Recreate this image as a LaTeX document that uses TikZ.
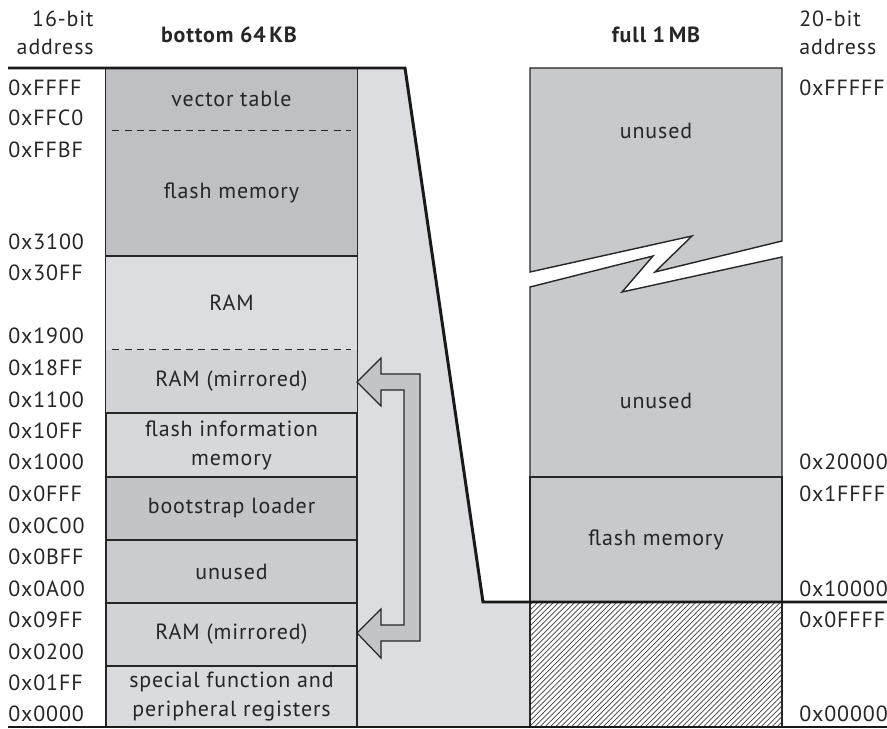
\documentclass[tikz,border=0pt]{standalone}
\usepackage{fontspec}
\setmainfont{PT Sans}[LetterSpace=4]
\usetikzlibrary{patterns}
\definecolor{txtgray}{HTML}{262626}
\definecolor{gDark}{HTML}{BFC0C3}
\definecolor{gLight}{HTML}{DCDDE0}
\definecolor{gMir}{HTML}{D2D3D6}
\definecolor{gInfo}{HTML}{D7D8DA}
\definecolor{gBoot}{HTML}{C3C4C7}
\definecolor{gUnused}{HTML}{CBCCCF}
\definecolor{gSpec}{HTML}{DADBDE}
\definecolor{gRight}{HTML}{C8C9CB}
\definecolor{gArrow}{HTML}{C3C4C7}
\tikzset{
  region/.style={draw=black!85, line width=0.8pt},
  lbl/.style={font=\fontsize{12.5}{15}\selectfont, text=txtgray, inner sep=0pt, align=center},
  head/.style={lbl, font=\fontsize{12.5}{15}\selectfont\bfseries},
  addr/.style={lbl, anchor=west},
  blk/.style={lbl, region, minimum width=5.02cm},
  sep/.style={draw=black!85, line width=0.7pt, dash pattern=on 4pt off 3pt},
  edge/.style={draw=black!90, line width=1.7pt},
}
\begin{document}
\begin{tikzpicture}[x=0.02cm, y=-0.02cm]
  \useasboundingbox (0,0) rectangle (887,729);
  % grey band behind the 64 KB window
  \fill[gLight] (357,68) -- (405,68) -- (483,602) -- (530,602) -- (530,727) -- (357,727) -- cycle;

  % bottom 64 KB
  \node[blk, draw=none, fill=gDark, minimum height=1.24cm] (vec) at (231.5,99) {vector table};
  \node[blk, draw=none, fill=gDark, minimum height=2.52cm] (fla) at (231.5,193) {flash memory};
  \node[blk, draw=none, fill=gLight, minimum height=1.88cm] (ram) at (231.5,303) {RAM};
  \node[blk, draw=none, fill=gMir, minimum height=1.26cm] (mirA) at (231.5,381.5) {RAM (mirrored)};
  \node[blk, fill=gInfo, minimum height=1.28cm] (info) at (231.5,445) {flash information\\[1.5pt]memory};
  \node[blk, fill=gBoot, minimum height=1.26cm] (boot) at (231.5,508.5) {bootstrap loader};
  \node[blk, fill=gUnused, minimum height=1.26cm] (unu) at (231.5,571.5) {unused};
  \node[blk, fill=gMir, minimum height=1.26cm] (mirB) at (231.5,634.5) {RAM (mirrored)};
  \node[blk, fill=gSpec, minimum height=1.22cm] (spec) at (231.5,696.5) {special function and\\[1.5pt]peripheral registers};
  \draw[region] (vec.north west) rectangle (fla.south east);
  \draw[region] (ram.north west) rectangle (mirA.south east);
  \draw[sep] ([xshift=4]vec.south west) -- ([xshift=-4]vec.south east);
  \draw[sep] ([xshift=4]mirA.north west) -- ([xshift=-4]mirA.north east);

  % full 1 MB
  \filldraw[region, fill=gRight] (530,68) -- (782,68) -- (782,241) -- (655,272) -- (692,236) -- (530,272) -- cycle;
  \filldraw[region, fill=gRight] (530,287) -- (653,256) -- (622,292) -- (782,257) -- (782,477) -- (530,477) -- cycle;
  \node[blk, fill=gRight, minimum width=5.04cm, minimum height=2.5cm] (flb) at (656,539.5) {flash memory};
  \draw[region, pattern=north east lines, pattern color=black!75] (530,602) rectangle (782,727);
  \node[lbl] (unA) at (656,131) {unused};
  \node[lbl] (unB) at (656,401) {unused};

  % mirror arrow
  \filldraw[region, fill=gArrow, line width=0.7pt] (357,382) -- (381,358) -- (381,374) -- (420,374) -- (420,641)
    -- (381,641) -- (381,658) -- (357,633) -- (381,609) -- (381,625) -- (404,625) -- (404,390)
    -- (381,390) -- (381,406) -- cycle;

  % outline
  \draw[edge] (8,68) -- (405,68) -- (483,602) -- (887,602);
  \draw[edge] (8,727) -- (887,727);

  % headings
  \node[lbl, anchor=base east] (h16a) at (94,27) {16-bit};
  \node[lbl, anchor=base east] (h16b) at (94,55) {address};
  \node[head, anchor=base] (hlo) at (229,43) {bottom 64\,KB};
  \node[head, anchor=base] (hhi) at (656,43) {full 1\,MB};
  \node[lbl, anchor=base west] (h20a) at (799,27) {20-bit};
  \node[lbl, anchor=base west] (h20b) at (799,55) {address};

  % 16-bit addresses
  \foreach \adr/\yy [count=\i] in {0xFFFF/88, 0xFFC0/118, 0xFFBF/150, 0x3100/242, 0x30FF/273, 0x1900/336,
      0x18FF/368, 0x1100/400, 0x10FF/431, 0x1000/462, 0x0FFF/494, 0x0C00/526, 0x0BFF/557,
      0x0A00/589, 0x09FF/620, 0x0200/652, 0x01FF/683, 0x0000/714}
    \node[addr] (lo\i) at (8,\yy) {\adr};
  % 20-bit addresses
  \foreach \adr/\yy [count=\i] in {0xFFFFF/88, 0x20000/462, 0x1FFFF/494, 0x10000/589, 0x0FFFF/620, 0x00000/714}
    \node[addr] (hi\i) at (799,\yy) {\adr};
\end{tikzpicture}
\end{document}
